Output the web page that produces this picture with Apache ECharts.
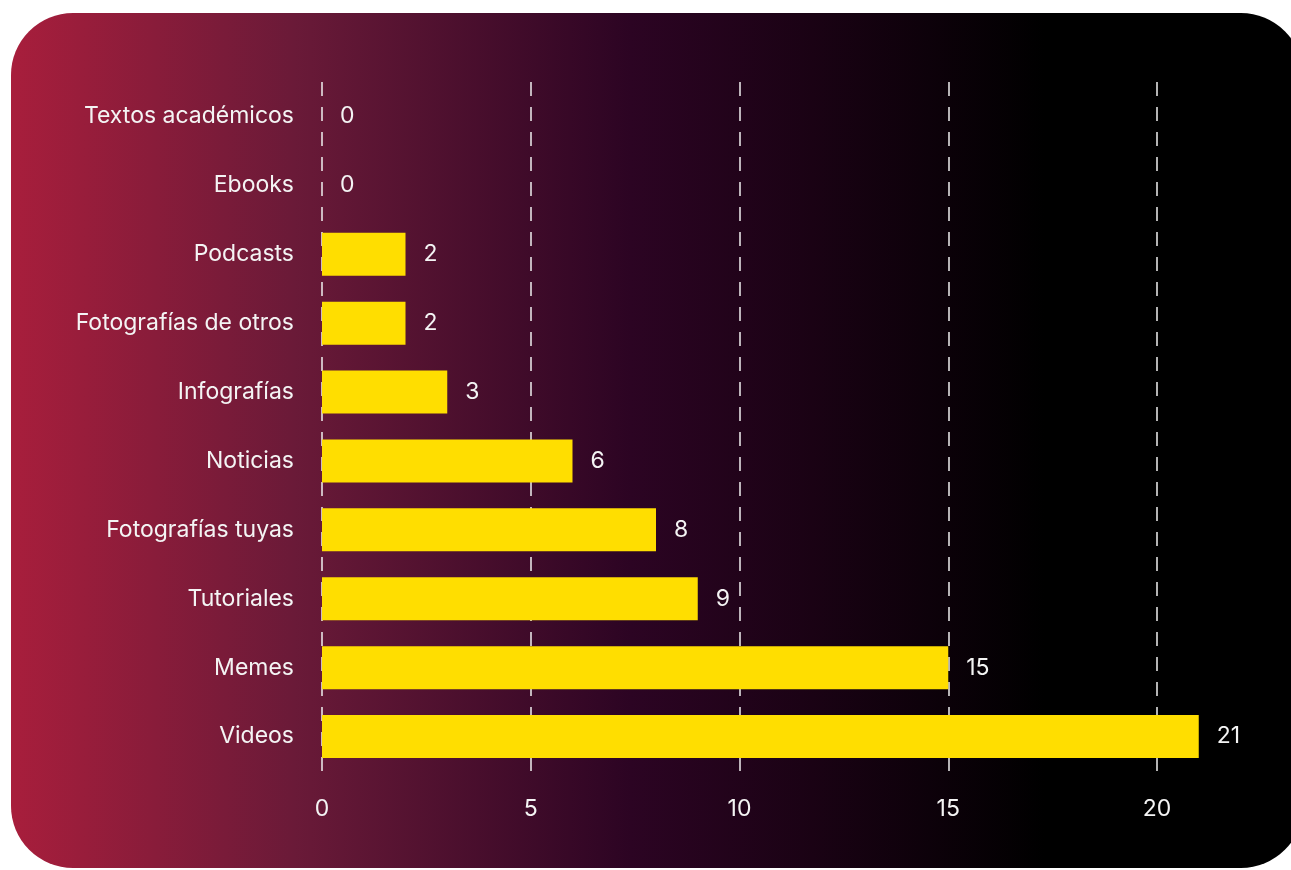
<!DOCTYPE html>
<html lang="es">
<head>
    <meta charset="UTF-8">
    <title>Contenidos</title>
    <style>
        html, body { margin: 0; padding: 0; background: #ffffff; }
        #main { width: 1291px; height: 870px; }
    </style>
</head>
<body>
<div id="main"></div>
<script src="https://cdn.jsdelivr.net/npm/echarts@6/dist/echarts.min.js"></script>
<script>
    // categorías de abajo hacia arriba (el eje y de ECharts empieza abajo)
    var categorias = ['Videos', 'Memes', 'Tutoriales', 'Fotografías tuyas', 'Noticias',
        'Infografías', 'Fotografías de otros', 'Podcasts', 'Ebooks', 'Textos académicos'];
    var valores = [21, 15, 9, 8, 6, 3, 2, 2, 0, 0];
    var ticksX = [0, 5, 10, 15, 20];

    var fuente = 'Inter';
    var myChart = echarts.init(document.getElementById('main'));

    var option = {
        animation: false,
        graphic: [{
            type: 'rect',
            z: -10,
            shape: { x: 11, y: 13, width: 1292, height: 855, r: 62 },
            style: {
                fill: new echarts.graphic.LinearGradient(0, 0, 1, 0, [
                    { offset: 0, color: '#a81e3c' },
                    { offset: 0.22, color: '#6a1a38' },
                    { offset: 0.48, color: '#2c0423' },
                    { offset: 0.62, color: '#1a0214' },
                    { offset: 0.8, color: '#000000' },
                    { offset: 1, color: '#000000' }
                ])
            }
        }],
        grid: { left: 322, right: 134, top: 82, bottom: 99, containLabel: false },
        xAxis: {
            type: 'value',
            min: ticksX[0],
            max: ticksX[ticksX.length - 1],
            interval: 5,
            axisLine: { show: false },
            axisTick: { show: false },
            axisLabel: { color: '#f4f4f4', fontFamily: fuente, fontSize: 23, margin: 27 },
            splitLine: {
                show: true,
                lineStyle: { color: '#f0f0f0', type: [14, 11], width: 1.5 }
            }
        },
        yAxis: {
            type: 'category',
            data: categorias,
            axisLine: { show: false },
            axisTick: { show: false },
            axisLabel: { color: '#f4f4f4', fontFamily: fuente, fontSize: 23, margin: 28 }
        },
        series: [{
            type: 'bar',
            data: valores,
            barWidth: 43,
            clip: false,
            itemStyle: { color: '#ffde00' },
            label: {
                show: true,
                position: 'right',
                distance: 18,
                color: '#f4f4f4',
                fontFamily: fuente,
                fontSize: 23
            }
        }]
    };
    myChart.setOption(option);
</script>
</body>
</html>
